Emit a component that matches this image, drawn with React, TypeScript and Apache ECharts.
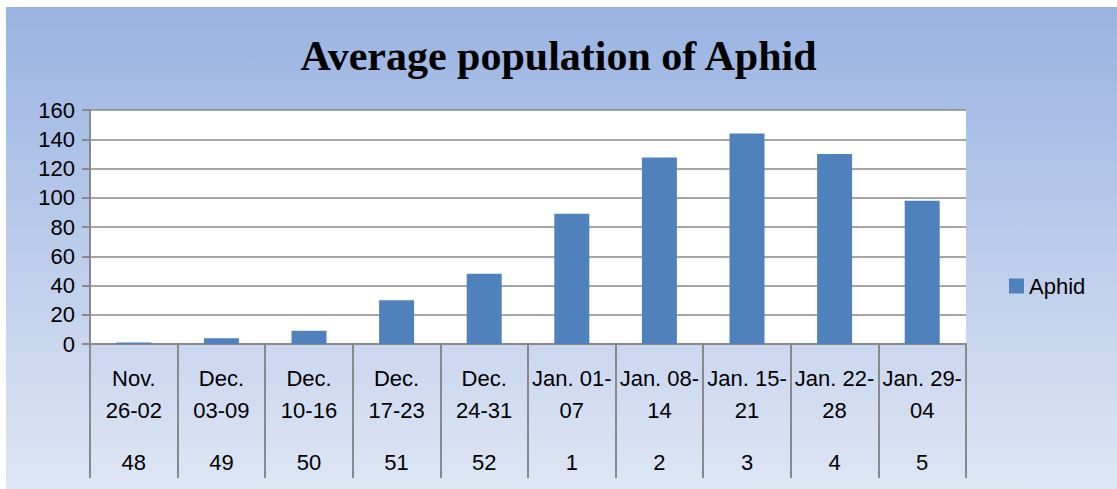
import React, { useEffect, useRef } from "react";
import * as echarts from "echarts";

const categories = [
  "Nov.\n26-02",
  "Dec.\n03-09",
  "Dec.\n10-16",
  "Dec.\n17-23",
  "Dec.\n24-31",
  "Jan. 01-\n07",
  "Jan. 08-\n14",
  "Jan. 15-\n21",
  "Jan. 22-\n28",
  "Jan. 29-\n04",
];
const weeks = ["48", "49", "50", "51", "52", "1", "2", "3", "4", "5"];
const aphid = [1, 4, 9, 30, 48, 89, 127.5, 144, 130, 98];
const yTicks = { min: 0, max: 160, interval: 20 };

const FONT = "Liberation Sans";
const GRAY = "#898989";

export default function App() {
  const ref = useRef<HTMLDivElement>(null);
  useEffect(() => {
    if (!ref.current) return;
    const chart = echarts.init(ref.current, null, { renderer: "svg" });
    chart.setOption({
      animation: false,
      backgroundColor: "#ffffff",
      graphic: [
        {
          type: "rect",
          z: -10,
          silent: true,
          shape: { x: 6, y: 7, width: 1111, height: 482 },
          style: {
            fill: new echarts.graphic.LinearGradient(0, 0, 0, 1, [
              { offset: 0, color: "#99B3E2" },
              { offset: 1, color: "#DEE6F4" },
            ]),
          },
        },
      ],
      title: {
        text: "Average population of Aphid",
        left: "center",
        top: 30,
        textStyle: {
          fontFamily: "Liberation Serif",
          fontWeight: "bold",
          fontSize: 42,
          color: "#000",
        },
      },
      legend: {
        data: ["Aphid"],
        left: 1004,
        top: 270,
        itemWidth: 15,
        itemHeight: 15,
        icon: "rect",
        textStyle: { fontFamily: FONT, fontSize: 22, color: "#000" },
      },
      grid: {
        left: 90,
        right: 151,
        top: 110,
        bottom: 145,
        show: true,
        backgroundColor: "#ffffff",
        borderWidth: 0,
      },
      xAxis: [
        {
          type: "category",
          data: categories,
          position: "bottom",
          axisLine: { show: true, lineStyle: { color: GRAY, width: 2 } },
          axisTick: {
            show: true,
            interval: 0,
            length: 134,
            lineStyle: { color: GRAY, width: 2 },
          },
          axisLabel: {
            interval: 0,
            fontFamily: FONT,
            fontSize: 22,
            lineHeight: 32,
            margin: 18,
            color: "#000",
          },
        },
        {
          type: "category",
          data: weeks,
          position: "bottom",
          axisLine: { show: false },
          axisTick: { show: false },
          axisLabel: {
            interval: 0,
            fontFamily: FONT,
            fontSize: 22,
            lineHeight: 22,
            margin: 107,
            color: "#000",
          },
        },
      ],
      yAxis: {
        type: "value",
        min: yTicks.min,
        max: yTicks.max,
        interval: yTicks.interval,
        axisLine: { show: true, lineStyle: { color: GRAY, width: 2 } },
        axisTick: { show: true, length: 8, lineStyle: { color: GRAY, width: 2 } },
        splitLine: { show: true, lineStyle: { color: GRAY, width: 1.5 } },
        axisLabel: {
          fontFamily: FONT,
          fontSize: 22,
          color: "#000",
          margin: 15,
        },
      },
      series: [
        {
          name: "Aphid",
          type: "bar",
          data: aphid,
          xAxisIndex: 0,
          barWidth: 35,
          itemStyle: { color: "#4F81BD" },
        },
      ],
    });
    return () => chart.dispose();
  }, []);
  return (
    <div
      ref={ref}
      style={{ position: "absolute", left: 0, top: 0, width: 1117, height: 489 }}
    />
  );
}
